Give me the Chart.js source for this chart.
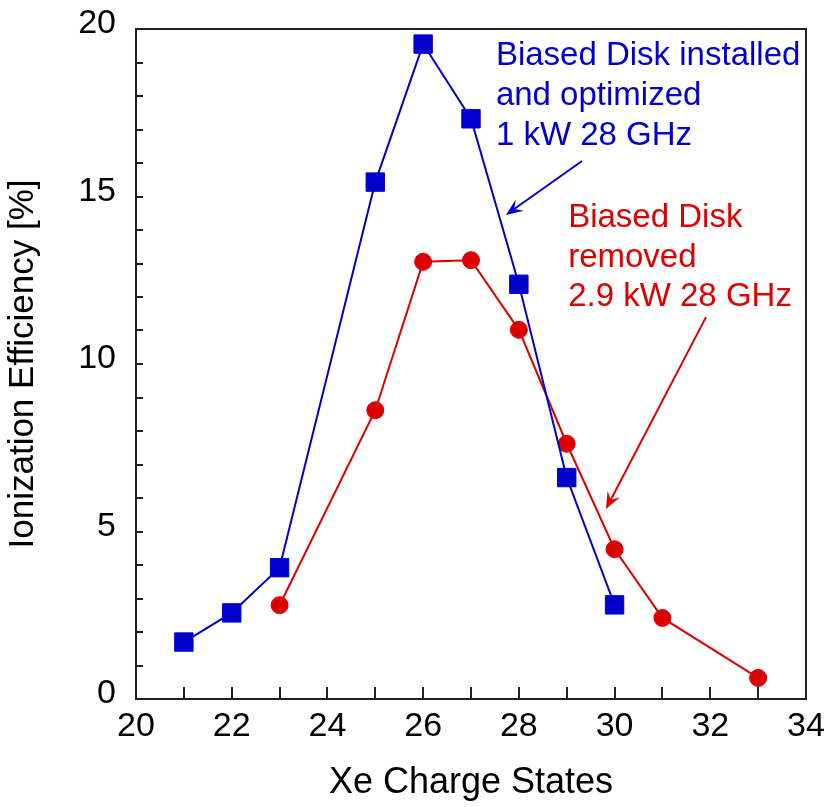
<!DOCTYPE html>
<html>
<head>
<meta charset="utf-8">
<script src="https://cdn.jsdelivr.net/npm/chart.js@4.4.1/dist/chart.umd.min.js"></script>
<style>
  html, body { margin: 0; padding: 0; background: #fff; }
</style>
</head>
<body>
<canvas id="effChart" width="828" height="807"></canvas>
<script>
// charge states and ionization efficiency (%)
const diskInstalledX = [21, 22, 23, 25, 26, 27, 28, 29, 30];
const diskInstalledY = [1.7, 2.57, 3.92, 15.43, 19.55, 17.32, 12.38, 6.61, 2.81];
const diskRemovedX = [23, 25, 26, 27, 28, 29, 30, 31, 33];
const diskRemovedY = [2.8, 8.62, 13.05, 13.1, 11.02, 7.62, 4.47, 2.42, 0.63];

const BLUE = '#0000cc';
const RED = '#dd0000';
const FONT = '"Liberation Sans", Arial, sans-serif';

function toPoints(xs, ys) {
  return xs.map((x, i) => ({ x: x, y: ys[i] }));
}

function arrow(ctx, x1, y1, x2, y2, color) {
  const ang = Math.atan2(y2 - y1, x2 - x1);
  const len = 17, half = 7;
  ctx.save();
  ctx.strokeStyle = color;
  ctx.fillStyle = color;
  ctx.lineWidth = 2;
  ctx.beginPath();
  ctx.moveTo(x1, y1);
  ctx.lineTo(x2 - Math.cos(ang) * 8, y2 - Math.sin(ang) * 8);
  ctx.stroke();
  ctx.translate(x2, y2);
  ctx.rotate(ang);
  ctx.beginPath();
  ctx.moveTo(0, 0);
  ctx.lineTo(-len, -half);
  ctx.lineTo(-len * 0.6, 0);
  ctx.lineTo(-len, half);
  ctx.closePath();
  ctx.fill();
  ctx.restore();
}

const decorations = {
  id: 'decorations',
  afterDraw(chart) {
    const ctx = chart.ctx;
    const a = chart.chartArea;
    const xs = chart.scales.x, ys = chart.scales.y;
    ctx.save();
    ctx.strokeStyle = '#222';
    ctx.lineWidth = 2;
    // inward ticks
    ctx.beginPath();
    for (let v = 21; v < 34; v++) {
      const px = Math.round(xs.getPixelForValue(v));
      ctx.moveTo(px, a.bottom);
      ctx.lineTo(px, a.bottom - 12);
    }
    for (let v = 1; v < 20; v++) {
      const py = Math.round(ys.getPixelForValue(v));
      ctx.moveTo(a.left, py);
      ctx.lineTo(a.left + 7, py);
    }
    ctx.stroke();
    ctx.strokeRect(a.left, a.top, a.right - a.left, a.bottom - a.top);
    ctx.restore();

    // annotations
    const P = (x, y) => [xs.getPixelForValue(x), ys.getPixelForValue(y)];
    ctx.save();
    ctx.font = '33px ' + FONT;
    ctx.textBaseline = 'alphabetic';
    ctx.textAlign = 'left';
    ctx.fillStyle = BLUE;
    const blueLines = ['Biased Disk installed', 'and optimized', '1 kW 28 GHz'];
    const blueY = [18.93, 17.73, 16.54];
    blueLines.forEach((t, i) => { const p = P(27.52, blueY[i]); ctx.fillText(t, p[0], p[1]); });
    ctx.fillStyle = RED;
    const redLines = ['Biased Disk', 'removed', '2.9 kW 28 GHz'];
    const redY = [14.09, 12.9, 11.73];
    redLines.forEach((t, i) => { const p = P(29.03, redY[i]); ctx.fillText(t, p[0], p[1]); });
    ctx.restore();

    const b1 = P(29.32, 16.06), b2 = P(27.73, 14.45);
    arrow(ctx, b1[0], b1[1], b2[0], b2[1], BLUE);
    const r1 = P(31.91, 11.4), r2 = P(29.82, 5.67);
    arrow(ctx, r1[0], r1[1], r2[0], r2[1], RED);
  }
};

new Chart(document.getElementById('effChart'), {
  type: 'scatter',
  data: {
    datasets: [{
      label: 'Biased Disk installed',
      data: toPoints(diskInstalledX, diskInstalledY),
      showLine: true,
      borderColor: BLUE,
      backgroundColor: BLUE,
      borderWidth: 2,
      pointStyle: 'rect',
      pointRadius: 13,
      pointBorderWidth: 1,
      pointHoverRadius: 13
    }, {
      label: 'Biased Disk removed',
      data: toPoints(diskRemovedX, diskRemovedY),
      showLine: true,
      borderColor: RED,
      backgroundColor: RED,
      borderWidth: 2,
      pointStyle: 'circle',
      pointRadius: 8.5,
      pointBorderWidth: 1,
      pointHoverRadius: 8.5
    }]
  },
  options: {
    responsive: false,
    maintainAspectRatio: false,
    animation: false,
    clip: false,
    layout: { padding: { left: 0, top: 29, right: 22, bottom: 0 } },
    plugins: {
      legend: { display: false },
      tooltip: { enabled: false }
    },
    scales: {
      x: {
        type: 'linear',
        min: 20,
        max: 34,
        afterFit: (s) => { s.height = 108; s.paddingLeft = 0; s.paddingRight = 0; },
        grid: { display: false, drawTicks: false },
        border: { display: false },
        ticks: {
          stepSize: 2,
          padding: 7,
          maxRotation: 0,
          color: '#000',
          font: { family: FONT, size: 34 }
        },
        title: {
          display: true,
          text: 'Xe Charge States',
          color: '#000',
          padding: { top: 0, bottom: 2 },
          font: { family: FONT, size: 36 }
        }
      },
      y: {
        type: 'linear',
        min: 0,
        max: 20,
        afterFit: (s) => { s.width = 136; s.paddingTop = 0; s.paddingBottom = 0; },
        grid: { display: false, drawTicks: false },
        border: { display: false },
        ticks: {
          stepSize: 5,
          padding: 20,
          labelOffset: -5,
          color: '#000',
          font: { family: FONT, size: 34 }
        },
        title: {
          display: true,
          text: 'Ionization Efficiency [%]',
          color: '#000',
          padding: { top: 2, bottom: 0 },
          font: { family: FONT, size: 35 }
        }
      }
    }
  },
  plugins: [decorations]
});
</script>
</body>
</html>
